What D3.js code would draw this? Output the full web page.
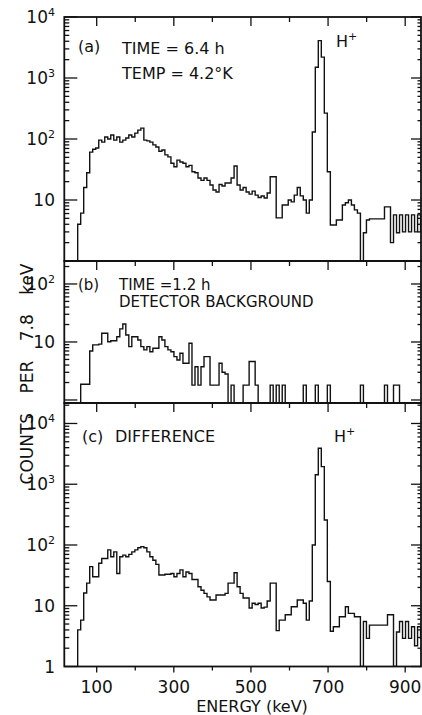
<!DOCTYPE html>
<html><head><meta charset="utf-8">
<script src="https://cdn.jsdelivr.net/npm/d3@7"></script>
<style>
body{margin:0;background:#fff}
svg{display:block}
text{font-family:"DejaVu Sans",sans-serif;fill:#111}
</style>
</head><body>
<svg id="chart" width="422" height="715"></svg>
<script>
// ---- data (counts per 7.8 keV channel) ----
const binWidth = 7.8;          // keV per channel
const startEnergy = 50.7;      // lower edge of first plotted channel (keV)
const countsA = [4.0,6.1,16,28,61,68,71,96,89,108,100,116,96,108,89,96,104,116,108,125,
  140,151,96,93,89,80,74,63,66,55,51,40,35,45,42,40,35,37,29,28,
  23,21,23,21,17.6,14.6,13.5,18,17,19,19,23,36,17.6,14.6,16,13.5,12.5,14,12,
  11,11.6,10.8,13,24,24,5.1,5.1,8.3,8.3,10,9.3,12,16,11.7,10,6.1,10,130,1500,
  4100,2200,266,29,3.9,3.9,4.7,4.7,8.3,9,10,8.3,6.9,6.1,0,2.9,4.7,4.9,4.9,4.9,
  4.9,4.9,7.7,7.7,2.0,5.7,2.9,5.7,3,5.7,3,5.7,3,5.7,3];
const countsB = [0,1.87,1.87,1.87,7.0,8.9,8.9,9.2,14.1,14.1,10.1,10.5,10.5,12.3,16.8,20.4,13.2,8.3,12.3,12.3,
  10.8,8.3,7.3,8.3,6.8,7.8,7.8,12.3,10.8,8.3,7.3,6.8,5.6,4.9,6.4,4.3,4.3,9.5,1.8,3.75,
  1.8,3.75,5.6,5.6,1.8,1.8,1.8,4.3,3.0,2.8,0,1.8,0,0,0,1.8,1.8,4.6,4.6,1.8,
  0,0,0,0,1.8,0,1.8,0,1.8,0,0,0,0,0,0,1.8,0,0,0,1.8,
  0,0,0,1.8,0,0,0,0,0,0,0,0,0,0,1.8,0,0,0,0,0,
  0,0,1.8,0,0,1.8,1.8,0,0,0,0,0,0,0,0];
const countsC = [4.0,5.8,16.2,23.6,44,30,30,50,60,60,83,64,77,34,64,68,64,70,77,83,
  90,94,90,77,64,56,48,32,32,33,33,34,30,34,39,30,36,34,27,27,
  20.6,18,16,14,12.4,12.4,15,15,15,16,23.6,23.6,35,20.6,16,13.4,13.4,9.2,11,10.5,
  11,9.2,9.5,12,23.6,23.6,3.9,5.8,5.8,7.1,7.1,9.6,9.6,12.4,12.4,11,5.8,12,100,1430,
  3900,1950,258,25,3.8,4.5,4.5,6.6,6.6,9.6,7.5,7.5,6.6,6.6,0,5.5,2.9,4.8,4.8,4.8,
  4.8,4.8,4.8,7.1,7.1,0,3.7,5.5,2.9,5.5,2.9,4.5,2.2,4.5,2.9];
const energyTicks = [100,200,300,400,500,600,700,800,900];
const energyLabels = [100,300,500,700,900];
const decadesA = [10,100,1000,10000];
const decadesB = [10,100];
const decadesC = [1,10,100,1000,10000];

// ---- layout ----
const svg = d3.select("#chart");
const L = 64.3, R = 421;
const x = d3.scaleLinear().domain([16, 941]).range([L, R]);

const panels = [
  {id:"a", counts:countsA, decades:decadesA, y:d3.scaleLog().domain([1,1e4]).range([261,17])},
  {id:"b", counts:countsB, decades:decadesB, y:d3.scaleLog().domain([0.887,249]).range([403,261])},
  {id:"c", counts:countsC, decades:decadesC, y:d3.scaleLog().domain([1,21730]).range([666.5,403])}
];

function supLabel(sel, v){
  const e = Math.round(Math.log10(v));
  if (e <= 1) { sel.text(String(v)); return; }
  sel.append("tspan").text("10");
  sel.append("tspan").attr("dy",-7).attr("font-size",11).text(String(e));
}

panels.forEach((p, i) => {
  const y = p.y;
  const [yb, yt] = y.range();
  const g = svg.append("g");
  const clipId = "clip" + p.id;
  svg.append("clipPath").attr("id", clipId).append("rect")
    .attr("x", L).attr("y", yt).attr("width", R - L).attr("height", yb - yt);

  // histogram path
  let d = `M${x(startEnergy)},${yb}`;
  p.counts.forEach((c, k) => {
    const e1 = startEnergy + (k + 1) * binWidth;
    const yy = c > 0 ? y(c) : yb;
    d += `V${yy}H${x(e1)}`;
  });
  g.append("path").attr("d", d).attr("fill","none").attr("stroke","#111")
    .attr("stroke-width",1.4).attr("clip-path",`url(#${clipId})`);

  // frame
  g.append("rect").attr("x",L).attr("y",yt).attr("width",R-L).attr("height",yb-yt)
    .attr("fill","none").attr("stroke","#111").attr("stroke-width",1.8);

  // y ticks (log)
  const [d0, d1] = y.domain();
  const ticks = [];
  for (let e = Math.floor(Math.log10(d0)); e <= Math.ceil(Math.log10(d1)); e++) {
    for (let m = 1; m <= 9; m++) {
      const v = m * Math.pow(10, e);
      if (v >= d0 * 0.999 && v <= d1 * 1.001) ticks.push({v, major: m === 1});
    }
  }
  ticks.forEach(t => {
    const yy = y(t.v);
    g.append("line").attr("x1",L).attr("x2",L + (t.major?13:5)).attr("y1",yy).attr("y2",yy)
      .attr("stroke","#111").attr("stroke-width",1.3);
    g.append("line").attr("x1",R).attr("x2",R - (t.major?10:3.5)).attr("y1",yy).attr("y2",yy)
      .attr("stroke","#111").attr("stroke-width",1.3);
  });
  p.decades.forEach(v => {
    const t = g.append("text").attr("x", 55).attr("y", y(v) + 6)
      .attr("text-anchor","end").attr("font-size",17);
    supLabel(t, v);
  });

  // x ticks at top of each panel pointing down
  energyTicks.forEach(e => {
    const major = energyLabels.includes(e);
    g.append("line").attr("x1",x(e)).attr("x2",x(e)).attr("y1",yt).attr("y2",yt + (major?9:5))
      .attr("stroke","#111").attr("stroke-width",1.3);
  });
});

// bottom axis ticks (outward) and labels
const yBottom = 666.5;
energyTicks.forEach(e => {
  const major = energyLabels.includes(e);
  svg.append("line").attr("x1",x(e)).attr("x2",x(e)).attr("y1",yBottom).attr("y2",yBottom + (major?6:4))
    .attr("stroke","#111").attr("stroke-width",1.3);
});
energyLabels.forEach(e => {
  svg.append("text").attr("x",x(e)).attr("y",693).attr("text-anchor","middle")
    .attr("font-size",17).text(e);
});
svg.append("text").attr("x",252).attr("y",712).attr("text-anchor","middle")
  .attr("font-size",16).text("ENERGY (keV)");

// y axis title
svg.append("text").attr("transform","translate(33,374) rotate(-90)")
  .attr("text-anchor","middle").attr("font-size",17).attr("word-spacing",14)
  .text("COUNTS PER 7.8 keV");

// annotations
function ann(xp, yp, txt, size){ return svg.append("text").attr("x",xp).attr("y",yp).attr("font-size",size||16).text(txt); }
ann(78, 52, "(a)");
ann(122, 54, "TIME = 6.4 h");
ann(122, 79, "TEMP = 4.2°K");
const h1 = svg.append("text").attr("x",336).attr("y",47).attr("font-size",16);
h1.append("tspan").text("H");
h1.append("tspan").attr("dy",-7).attr("font-size",11).text("+");
ann(78, 290, "(b)", 15);
ann(119, 290, "TIME =1.2 h", 15);
ann(119, 307, "DETECTOR BACKGROUND", 15);
ann(82, 442, "(c)");
ann(115, 442, "DIFFERENCE");
const h2 = svg.append("text").attr("x",334).attr("y",442).attr("font-size",16);
h2.append("tspan").text("H");
h2.append("tspan").attr("dy",-7).attr("font-size",11).text("+");
</script>
</body></html>
